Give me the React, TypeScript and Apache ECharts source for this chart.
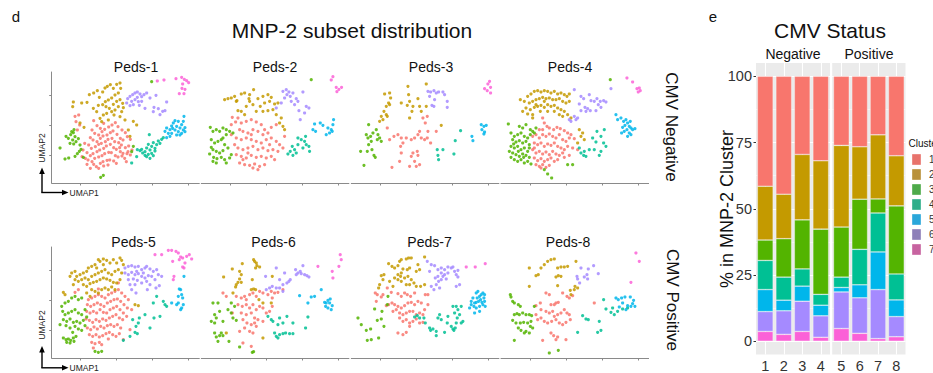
import React, { useEffect, useRef } from "react";
import * as echarts from "echarts";

type Pt = [number, number];

// ---------- UMAP panels (coordinates in UMAP plot units; y axis runs top->bottom) ----------
const PANEL_NAMES = ["Peds-1", "Peds-2", "Peds-3", "Peds-4", "Peds-5", "Peds-6", "Peds-7", "Peds-8"];
const CLUSTER_NAMES = ["1", "2", "3", "4", "5", "6", "7"];
const CLUSTER_COLORS = ["#F8766D", "#C49A00", "#53B400", "#00C094", "#00B6EB", "#A58AFF", "#FB61D7"];
const LEGEND_COLORS = ["#E8736C", "#B9913A", "#4EAA4A", "#2FAE8A", "#2AA7DA", "#8E80B9", "#C763A0"];
const UMAP1_TICKS = [92, 200, 308, 416];
const UMAP2_TICKS = [82, 172, 262];

const PEDS_1: Pt[][] = [
  [[75,145],[86,141],[78,161],[89,171],[82,186],[131,158],[141,173],[151,181],[161,166],[126,186],[134,196],[146,201],[156,191],[164,184],[176,177],[186,171],[196,164],[204,176],[216,186],[226,194],[232,206],[241,214],[121,209],[129,216],[141,221],[151,211],[159,204],[171,201],[181,194],[189,189],[201,199],[211,211],[219,216],[104,226],[116,231],[124,241],[136,236],[146,229],[154,226],[166,221],[174,214],[186,211],[194,221],[206,224],[214,231],[226,239],[99,246],[111,254],[121,263],[129,257],[141,251],[149,246],[161,241],[169,234],[181,229],[191,239],[199,244],[211,251],[219,256],[231,257],[96,266],[106,271],[114,276],[126,281],[134,271],[146,267],[156,263],[164,257],[176,253],[184,254],[196,263],[204,267],[216,264],[224,271],[241,261],[131,289],[139,296],[151,286],[159,281],[171,277],[179,276],[191,279],[199,286],[146,301],[161,294],[174,291],[209,239],[236,234],[246,246],[234,251],[229,281],[111,289],[121,301]],
  [[70,102],[68,116],[95,105],[111,103],[118,80],[131,75],[142,68],[148,88],[158,72],[165,60],[172,55],[181,50],[190,61],[200,49],[210,45],[212,61],[205,75],[195,81],[185,90],[175,96],[166,101],[158,110],[168,116],[178,121],[190,109],[200,100],[210,95],[218,106],[205,116],[195,126],[185,131],[170,136],[160,141],[150,151],[175,156],[192,141],[215,131],[220,119],[225,156],[210,146],[130,121],[140,131],[90,165],[102,178],[235,186],[240,205],[250,160],[260,171],[155,161],[145,112]],
  [[48,205],[55,211],[62,200],[70,194],[75,206],[68,216],[78,221],[60,226],[71,228],[85,212],[90,231],[72,185],[65,191],[30,240],[45,273],[56,270],[75,265],[82,257],[88,250],[93,244],[100,268],[152,328],[160,322],[245,251],[250,235],[305,41]],
  [[245,285],[260,266],[262,245],[285,251],[290,240],[295,229],[300,246],[305,235],[310,224],[315,241],[320,230],[325,219],[330,226],[335,214],[340,209],[285,262],[295,259],[305,256],[315,249],[300,271],[290,266],[278,255],[270,248],[298,200],[275,244],[310,263]],
  [[345,190],[350,180],[355,196],[360,185],[365,174],[370,165],[375,186],[380,175],[385,191],[390,180],[395,196],[400,186],[405,179],[395,170],[400,160],[402,145],[385,160],[375,158],[365,196],[380,201],[360,205],[350,209],[390,201],[405,191],[368,181]],
  [[233,92],[240,85],[248,80],[255,75],[262,72],[270,78],[275,86],[282,80],[290,75],[245,100],[255,95],[265,101],[230,105],[240,113],[250,110],[262,88],[275,100],[318,82],[350,102],[312,118],[325,122],[338,130],[345,128],[310,131],[330,140],[300,90],[285,121],[268,112]],
  [[378,32],[395,28],[403,34],[410,38],[416,44],[398,48],[396,61],[405,64],[388,77],[402,77],[342,36],[322,39]],
];

const PEDS_2: Pt[][] = [
  [[98,148],[115,150],[95,170],[108,162],[125,165],[140,160],[155,155],[170,162],[185,170],[195,185],[205,195],[215,178],[230,170],[120,185],[130,190],[145,195],[160,185],[175,190],[190,200],[110,210],[125,215],[140,210],[155,215],[170,220],[185,225],[200,215],[215,210],[230,220],[240,230],[115,240],[130,245],[145,240],[160,235],[175,245],[190,240],[205,248],[220,245],[235,250],[110,260],[125,265],[140,270],[155,262],[170,268],[185,265],[200,270],[215,265],[120,285],[135,290],[150,292],[165,288],[180,295],[195,290],[160,300],[175,305],[130,275],[145,255],[105,230],[210,230],[250,240],[225,275],[95,200],[155,200],[255,205]],
  [[75,95],[85,92],[95,90],[105,85],[112,98],[125,78],[135,75],[150,80],[162,65],[175,92],[190,85],[205,80],[215,88],[225,108],[235,105],[210,100],[195,105],[182,115],[170,130],[160,110],[150,100],[140,115],[125,130],[115,128],[135,140],[190,130],[205,128],[220,125],[230,140],[240,165],[250,175],[255,185],[245,150],[110,100],[148,92]],
  [[32,178],[40,190],[50,185],[60,190],[70,180],[80,185],[90,190],[100,195],[35,215],[45,225],[55,220],[65,215],[75,230],[85,240],[40,245],[50,250],[60,255],[70,248],[30,258],[42,268],[52,272],[65,268],[75,275],[40,280],[50,285],[80,285],[90,270],[95,260],[35,238],[80,200],[70,210],[335,35]],
  [[265,258],[272,250],[280,262],[290,255],[285,245],[295,210],[305,215],[315,220],[320,230],[310,240],[328,235],[295,230],[278,235],[318,205],[330,250]],
  [[340,185],[345,168],[362,165],[370,172],[385,180],[390,195],[395,185],[400,170],[402,155],[380,200],[398,190],[348,190]],
  [[250,70],[260,65],[268,72],[262,80],[272,85],[255,90],[280,75],[290,92],[295,100],[310,72],[285,110],[298,128],[320,115],[328,120],[315,135],[302,155],[230,120],[245,105],[275,100]],
  [[400,26],[395,36],[410,58],[418,64],[426,58],[412,71]],
];

const PEDS_3: Pt[][] = [
  [[113,180],[120,215],[133,205],[145,200],[155,210],[160,225],[153,235],[170,210],[185,215],[195,210],[205,200],[210,190],[215,210],[225,215],[233,210],[227,165],[220,150],[233,145],[235,190],[243,225],[260,190],[203,250],[190,255],[185,265],[195,280],[180,295],[200,295],[210,290],[155,255],[150,280],[127,298],[205,262]],
  [[105,78],[120,75],[123,90],[117,105],[110,115],[103,130],[95,145],[90,160],[100,155],[110,140],[120,110],[155,105],[177,80],[180,100],[173,112],[187,130],[180,150],[190,115],[205,92],[210,115],[215,130],[230,48],[175,55],[230,115],[275,172],[113,145]],
  [[57,170],[50,200],[55,210],[63,205],[70,195],[80,185],[85,200],[90,210],[83,215],[65,220],[57,230],[67,245],[73,262],[77,268],[43,292],[33,250],[95,220],[53,250]],
  [[263,245],[280,245],[265,262],[267,275],[313,258],[317,218],[333,188]],
  [[367,205],[370,218],[395,170],[403,175],[397,185],[405,192],[403,198],[410,172]],
  [[235,70],[243,72],[253,68],[260,75],[267,72],[280,72],[285,80],[255,95],[247,112],[253,115],[293,100],[293,118],[240,85]],
  [[420,40],[415,48],[423,58],[413,68],[423,75],[405,62]],
];

const PEDS_4: Pt[][] = [
  [[130,150],[135,165],[143,175],[150,180],[163,185],[173,178],[183,182],[195,188],[205,195],[215,200],[120,185],[110,200],[120,210],[130,200],[140,205],[150,198],[160,205],[170,210],[180,200],[190,215],[200,220],[210,210],[225,212],[105,225],[115,230],[125,225],[135,235],[145,228],[155,232],[165,225],[175,235],[185,240],[195,245],[205,235],[220,240],[100,245],[110,255],[120,250],[130,258],[140,252],[150,260],[160,250],[170,258],[180,262],[190,255],[105,270],[115,278],[125,272],[135,280],[145,275],[155,270],[165,280],[175,275],[110,290],[120,295],[130,290],[140,298],[150,292],[125,300],[195,268],[210,262],[235,245],[105,240],[100,205],[130,185]],
  [[63,95],[75,100],[85,85],[95,78],[105,70],[115,68],[125,72],[135,68],[145,70],[155,75],[165,70],[175,78],[185,75],[195,80],[203,85],[210,78],[90,105],[100,100],[110,95],[120,92],[130,88],[140,92],[150,90],[160,95],[170,95],[180,92],[190,100],[200,105],[210,100],[80,120],[93,125],[105,118],[115,115],[125,112],[135,118],[145,110],[155,115],[165,112],[175,120],[185,125],[195,130],[205,140],[215,150],[70,130],[85,138],[100,140],[123,130],[145,130],[165,130],[180,140],[190,145],[100,150],[110,110],[135,100],[235,225],[245,205],[255,215],[250,195],[240,185]],
  [[27,168],[60,175],[70,180],[80,170],[93,185],[100,190],[35,195],[45,205],[55,200],[65,195],[75,205],[85,210],[93,200],[40,215],[50,222],[60,218],[70,225],[80,220],[90,230],[35,235],[45,240],[55,235],[65,245],[75,240],[85,250],[40,255],[50,260],[60,265],[70,258],[80,262],[90,268],[45,275],[55,280],[65,275],[75,285],[85,280],[95,288],[35,268],[30,250],[43,228],[57,250],[73,268],[90,240],[105,195],[110,180],[205,290],[220,290],[145,318],[157,330],[135,305],[333,35]],
  [[240,240],[245,255],[255,250],[260,265],[270,245],[285,245],[293,190],[305,205],[315,185],[313,225],[305,250],[300,262],[280,210],[290,222],[253,262],[320,235]],
  [[350,140],[355,155],[365,150],[373,160],[380,155],[385,165],[390,175],[395,180],[383,185],[375,190],[390,195],[400,185],[407,182],[370,178],[377,172],[393,160],[367,195],[385,205],[395,200]],
  [[225,65],[245,85],[253,92],[240,108],[257,118],[265,122],[270,80],[275,98],[285,100],[293,92],[297,110],[303,100],[313,98],[320,102],[305,118],[290,128],[273,128],[245,128],[260,130],[335,62],[225,145],[235,150],[230,155],[215,160],[210,155]],
  [[383,30],[400,42],[420,60],[423,68],[417,72],[413,62]],
];

const PEDS_5: Pt[][] = [
  [[75,148],[85,140],[115,170],[125,165],[135,160],[145,155],[155,160],[165,165],[175,155],[185,150],[195,145],[205,140],[215,150],[225,160],[235,170],[112,185],[122,190],[132,185],[142,180],[152,185],[162,190],[172,180],[182,175],[192,170],[202,168],[212,175],[222,185],[232,195],[245,200],[110,205],[120,210],[130,205],[140,210],[150,200],[160,208],[170,210],[180,200],[190,195],[200,190],[210,200],[220,210],[230,220],[108,228],[118,232],[128,238],[138,230],[148,235],[158,228],[168,232],[178,225],[188,220],[198,215],[208,225],[218,230],[112,255],[122,260],[132,252],[142,258],[152,250],[162,255],[172,248],[182,245],[192,250],[202,245],[212,255],[118,275],[128,280],[138,275],[148,282],[158,278],[168,272],[178,268],[188,275],[198,280],[208,272],[125,298],[135,302],[148,298],[155,305],[130,315],[220,290],[240,260],[175,288],[145,138],[205,120]],
  [[40,148],[45,155],[60,100],[65,90],[75,85],[80,100],[90,95],[100,90],[110,85],[115,75],[125,70],[135,65],[145,50],[150,55],[160,48],[170,52],[180,60],[190,50],[200,60],[210,45],[215,52],[220,65],[85,115],[95,110],[105,105],[115,110],[125,100],[135,95],[145,90],[155,85],[165,80],[175,90],[185,95],[195,85],[205,80],[215,90],[100,125],[110,130],[120,122],[130,118],[140,115],[150,110],[160,105],[170,108],[180,112],[190,118],[200,120],[210,110],[125,140],[135,145],[145,150],[155,140],[165,135],[175,140],[185,132],[195,140],[110,150],[120,160],[140,75],[160,65],[255,185],[265,188],[70,125],[75,110]],
  [[35,190],[45,180],[55,175],[65,165],[75,160],[85,170],[95,165],[38,205],[45,215],[55,210],[65,205],[75,200],[85,210],[95,215],[40,230],[50,235],[60,228],[70,238],[80,235],[90,240],[100,232],[105,248],[48,248],[60,255],[75,250],[85,258],[95,262],[40,285],[48,290],[55,288],[62,292],[70,285],[50,298],[60,300],[72,295],[135,325],[145,328],[155,325],[110,222],[105,200],[30,245],[68,268],[78,280]],
  [[220,292],[240,280],[248,230],[258,250],[265,240],[262,272],[285,215],[300,255],[312,225],[320,160],[330,220],[340,175],[345,185],[350,190],[310,180],[268,225],[255,268]],
  [[385,160],[395,155],[398,165],[400,185],[395,195],[392,200],[385,180],[365,180],[388,138],[392,140],[402,100],[380,185]],
  [[225,75],[235,70],[245,68],[255,72],[265,70],[275,80],[285,75],[290,70],[300,78],[310,85],[320,80],[325,95],[335,100],[225,90],[235,95],[245,88],[255,95],[265,92],[275,100],[285,105],[295,98],[305,100],[315,110],[235,110],[250,108],[262,112],[275,120],[290,115],[300,125],[318,135],[328,128],[240,125],[255,125],[280,90],[260,85],[245,140],[292,140],[258,150]],
  [[315,35],[335,35],[355,22],[365,22],[378,25],[385,30],[392,42],[398,45],[410,40],[418,35],[425,48],[405,60],[402,75],[398,72],[372,100],[370,110],[368,55],[388,50]],
];

const PEDS_6: Pt[][] = [
  [[70,150],[80,160],[110,160],[125,165],[135,160],[140,170],[150,155],[160,150],[170,160],[180,145],[190,150],[205,155],[215,145],[225,150],[235,148],[115,185],[128,190],[140,185],[150,195],[160,185],[170,200],[180,190],[190,195],[200,210],[210,205],[218,190],[98,210],[125,210],[140,215],[155,210],[165,225],[130,230],[142,240],[155,245],[165,240],[175,230],[190,235],[120,265],[135,255],[150,265],[160,270],[170,250],[130,300],[155,310],[218,165],[250,140]],
  [[162,50],[165,55],[170,60],[172,68],[180,72],[168,75],[128,62],[98,78],[72,102],[120,85],[125,95],[120,108],[115,118],[110,125],[108,132],[125,118],[158,110],[162,138],[168,140],[155,140],[178,170],[190,180],[215,180],[218,100],[80,270],[190,285],[100,150]],
  [[40,180],[55,180],[60,205],[45,215],[50,225],[35,235],[45,240],[70,235],[85,200],[95,180],[105,190],[95,210],[100,225],[110,232],[45,270],[50,282],[60,278],[55,295],[65,270],[70,278],[88,295],[120,312],[158,328],[162,326]],
  [[205,220],[215,230],[220,235],[240,225],[235,245],[250,240],[262,220],[280,240],[225,270],[230,280],[240,275],[250,272],[258,270],[270,272],[280,272],[235,285],[318,255],[325,222]],
  [[300,158],[325,180],[335,162],[345,160],[365,140],[375,178],[385,172],[390,180],[398,188],[395,200],[385,195],[378,190],[380,180],[392,168]],
  [[230,75],[255,90],[262,120],[268,115],[272,110],[250,125],[240,135],[230,135],[210,135],[198,100],[200,140],[218,130],[288,80],[295,90],[302,85],[310,68],[315,95],[322,98],[305,92],[290,95],[328,102],[250,145],[240,110]],
  [[422,35],[425,50],[418,70],[398,85],[400,105],[355,70]],
];

const PEDS_7: Pt[][] = [
  [[77,150],[83,155],[95,162],[100,155],[113,135],[125,148],[145,152],[155,160],[165,150],[173,155],[183,160],[195,150],[205,175],[215,180],[227,155],[235,155],[110,188],[117,185],[127,180],[135,185],[145,190],[155,195],[165,188],[175,180],[185,178],[195,185],[130,205],[140,200],[150,210],[160,215],[170,210],[180,205],[190,205],[200,215],[210,210],[220,215],[150,225],[160,235],[170,230],[180,240],[190,235],[200,228],[210,240],[145,270],[160,275],[170,268],[180,250],[220,238],[235,185],[80,175],[225,200]],
  [[95,98],[103,95],[117,62],[127,70],[135,75],[145,68],[150,55],[155,50],[170,48],[177,45],[185,45],[160,78],[173,80],[180,75],[205,65],[210,80],[225,42],[155,90],[145,95],[135,105],[145,110],[155,115],[165,105],[175,100],[185,110],[193,120],[180,125],[170,125],[200,130],[213,130],[225,125],[100,110],[90,125],[87,135],[120,115],[130,130],[153,100],[200,85]],
  [[25,225],[35,245],[50,262],[53,292],[65,290],[87,285],[63,258],[75,198],[83,232],[95,228],[103,250],[97,205],[115,160],[113,185]],
  [[195,222],[203,218],[210,225],[223,225],[227,240],[240,255],[243,262],[250,258],[260,265],[260,278],[265,225],[270,215],[275,230],[285,268],[293,240],[305,250],[310,258],[313,262],[317,255],[320,240],[323,225],[330,215],[335,240],[340,235],[310,190],[320,190],[335,190],[295,220],[315,210],[325,200]],
  [[365,175],[370,165],[375,180],[380,150],[385,145],[390,160],[393,170],[397,178],[400,185],[403,165],[405,175],[407,190],[390,190],[380,195],[373,190],[387,175],[383,165],[395,155],[400,150],[375,210],[390,205],[360,195],[365,185],[405,155],[380,178]],
  [[233,55],[245,65],[255,68],[265,80],[275,75],[285,80],[295,72],[305,75],[310,72],[315,85],[320,95],[325,102],[320,130],[330,125],[325,82],[295,90],[285,95],[275,90],[265,100],[257,105],[267,115],[275,110],[260,125],[253,140],[245,130],[270,135],[240,85],[280,100],[290,108]],
  [[350,72],[377,72],[407,62]],
];

const PEDS_8: Pt[][] = [
  [[110,188],[123,180],[140,150],[150,155],[155,185],[165,185],[170,180],[177,178],[190,150],[203,160],[210,165],[220,158],[125,200],[140,205],[150,210],[160,205],[165,220],[175,215],[185,210],[195,200],[203,210],[210,215],[115,230],[125,225],[135,235],[145,240],[157,235],[170,230],[180,240],[190,245],[200,238],[213,230],[155,270],[163,278],[170,290],[175,282],[130,292],[200,290],[285,180],[110,215]],
  [[90,75],[110,98],[117,95],[125,75],[135,65],[145,55],[155,50],[165,48],[175,75],[185,72],[195,72],[205,70],[230,55],[177,98],[185,100],[90,130],[175,128],[213,142],[225,140],[235,135],[215,155],[227,130],[170,102]],
  [[33,155],[35,162],[40,175],[45,180],[57,185],[63,190],[70,210],[80,215],[90,215],[97,218],[45,215],[53,212],[60,215],[40,232],[50,240],[63,240],[73,238],[85,240],[95,235],[57,255],[65,262],[80,265],[93,250],[100,255],[45,292],[75,270],[90,270],[105,190],[150,330],[177,322]],
  [[250,218],[260,228],[267,230],[300,235],[295,268],[305,262],[313,170],[320,198],[335,208],[340,195],[355,205],[235,268],[370,198],[385,195],[345,215]],
  [[350,165],[357,170],[367,165],[377,162],[393,162],[403,172],[407,190],[395,190],[385,188],[370,180],[360,192],[380,200],[400,182]],
  [[245,75],[267,78],[283,68],[263,95],[255,102],[265,108],[235,108],[233,100],[297,92],[241,120]],
  [[410,30],[420,55],[395,118]],
];

const PANELS: Pt[][][] = [PEDS_1, PEDS_2, PEDS_3, PEDS_4, PEDS_5, PEDS_6, PEDS_7, PEDS_8];

// ---------- CMV status stacked bars (% of MNP-2 cells per cluster) ----------
const SAMPLE_IDS = ["1", "2", "3", "4", "5", "6", "7", "8"];
const NEGATIVE_IDX = [0, 1, 2, 3];
const POSITIVE_IDX = [4, 5, 6, 7];
const PCT_CLUSTER_1 = [41.5, 44.5, 29.5, 31.9, 26.1, 26.6, 22.1, 30.0];
const PCT_CLUSTER_2 = [20.3, 16.8, 24.7, 25.8, 30.8, 19.8, 24.2, 18.9];
const PCT_CLUSTER_3 = [7.7, 14.5, 18.5, 24.6, 18.9, 18.9, 5.3, 25.7];
const PCT_CLUSTER_4 = [11.0, 8.7, 6.5, 4.1, 3.9, 13.4, 14.7, 9.8];
const PCT_CLUSTER_5 = [8.3, 4.0, 5.7, 4.0, 1.7, 4.9, 14.2, 6.3];
const PCT_CLUSTER_6 = [7.5, 8.9, 11.4, 8.1, 13.8, 13.4, 18.5, 7.6];
const PCT_CLUSTER_7 = [3.7, 2.6, 3.7, 1.5, 4.8, 3.0, 1.0, 1.7];
const PCT = [PCT_CLUSTER_1, PCT_CLUSTER_2, PCT_CLUSTER_3, PCT_CLUSTER_4, PCT_CLUSTER_5, PCT_CLUSTER_6, PCT_CLUSTER_7];
const PCT_TICKS = [0, 25, 50, 75, 100];
const PCT_MINOR = [12.5, 37.5, 62.5, 87.5];

const FONT = "'Liberation Sans', Arial, Helvetica, sans-serif";

function txt(x: number, y: number, text: string, size: number, opts: any = {}) {
  return {
    type: "text",
    x,
    y,
    rotation: opts.rotation || 0,
    silent: true,
    style: {
      text,
      fontSize: size,
      fontFamily: FONT,
      fill: opts.fill || "#111",
      align: opts.align || "center",
      verticalAlign: "middle",
      textAlign: opts.align || "center",
      textVerticalAlign: "middle",
    },
  };
}

function umapArrow(cy: number, tipY: number, labelY: number) {
  const cx = 42;
  return [
    { type: "line", silent: true, shape: { x1: cx, y1: cy, x2: cx, y2: tipY + 5 }, style: { stroke: "#000", lineWidth: 1.4 } },
    { type: "line", silent: true, shape: { x1: cx - 0.7, y1: cy, x2: 63, y2: cy }, style: { stroke: "#000", lineWidth: 1.4 } },
    { type: "polygon", silent: true, shape: { points: [[cx, tipY], [cx - 2.8, tipY + 6.5], [cx + 2.8, tipY + 6.5]] }, style: { fill: "#000" } },
    { type: "polygon", silent: true, shape: { points: [[68.5, cy], [62, cy - 2.8], [62, cy + 2.8]] }, style: { fill: "#000" } },
    txt(69.5, cy + 0.5, "UMAP1", 8.5, { align: "left", fill: "#222" }),
    txt(cx - 0.5, labelY, "UMAP2", 8.5, { rotation: Math.PI / 2, fill: "#222" }),
  ];
}

export default function App() {
  const ref = useRef<HTMLDivElement>(null);

  useEffect(() => {
    if (!ref.current) return;
    const chart = echarts.init(ref.current, undefined, { renderer: "svg" });

    const PANEL_LEFT = [51.7, 201.3, 351.3, 501];
    const ROW_TOP = [72, 247];
    const PW = 147.6;
    const PH = 111;

    const grids: any[] = [];
    const xAxes: any[] = [];
    const yAxes: any[] = [];
    const series: any[] = [];

    PANELS.forEach((panel, p) => {
      const col = p % 4;
      const row = Math.floor(p / 4);
      const first = col === 0;
      grids.push({ left: PANEL_LEFT[col], top: ROW_TOP[row], width: PW, height: PH, containLabel: false });
      xAxes.push({
        type: "value",
        gridIndex: p,
        min: 5,
        max: 448,
        axisLine: { show: true, lineStyle: { color: "#8a8a8a", width: 1 } },
        axisTick: { show: true, length: 2.5, customValues: UMAP1_TICKS, lineStyle: { color: "#8a8a8a" } },
        axisLabel: { show: false },
        splitLine: { show: false },
      });
      yAxes.push({
        type: "value",
        gridIndex: p,
        inverse: true,
        min: 12,
        max: 345,
        axisLine: { show: first, lineStyle: { color: "#8a8a8a", width: 1 } },
        axisTick: { show: first, length: 2.5, customValues: UMAP2_TICKS, lineStyle: { color: "#8a8a8a" } },
        axisLabel: { show: false },
        splitLine: { show: false },
      });
      panel.forEach((pts, c) => {
        series.push({
          type: "scatter",
          name: CLUSTER_NAMES[c],
          xAxisIndex: p,
          yAxisIndex: p,
          data: pts,
          symbol: "circle",
          symbolSize: 3.2,
          silent: true,
          itemStyle: { color: CLUSTER_COLORS[c], opacity: 0.85 },
        });
      });
    });

    // bar facets (CMV Negative / Positive)
    const BAR_GRIDS = [
      { left: 756, width: 74, idx: NEGATIVE_IDX },
      { left: 832.2, width: 73.3, idx: POSITIVE_IDX },
    ];
    BAR_GRIDS.forEach((g, k) => {
      const gi = 8 + k;
      grids.push({ left: g.left, top: 63, width: g.width, height: 293, show: true, backgroundColor: "#EBEBEB", borderWidth: 0 });
      const cats = g.idx.map((i) => SAMPLE_IDS[i]);
      xAxes.push({
        type: "category",
        gridIndex: gi,
        data: cats,
        boundaryGap: true,
        axisLine: { show: false },
        axisTick: { show: true, alignWithLabel: true, length: 2.5, lineStyle: { color: "#333" } },
        axisLabel: { show: true, fontSize: 14.5, fontFamily: FONT, color: "#333", margin: 3.5 },
        splitLine: { show: false },
      });
      yAxes.push({
        type: "value",
        gridIndex: gi,
        min: -5,
        max: 105,
        axisLine: { show: false },
        axisTick: { show: k === 0, length: 2.5, customValues: PCT_TICKS, lineStyle: { color: "#333" } },
        axisLabel: { show: k === 0, customValues: PCT_TICKS, fontSize: 14.5, fontFamily: FONT, color: "#333", margin: 4 },
        splitLine: { show: false },
      });
      // panel grid lines (white), below the bars
      series.push({
        type: "line",
        xAxisIndex: gi,
        yAxisIndex: gi,
        data: [],
        silent: true,
        markLine: {
          silent: true,
          z: 1,
          symbol: ["none", "none"],
          label: { show: false },
          animation: false,
          data: [
            ...cats.map((c) => ({ xAxis: c, lineStyle: { color: "#ffffff", width: 1.1, type: "solid" } })),
            ...PCT_TICKS.map((v) => ({ yAxis: v, lineStyle: { color: "#ffffff", width: 1.1, type: "solid" } })),
            ...PCT_MINOR.map((v) => ({ yAxis: v, lineStyle: { color: "#ffffff", width: 0.5, type: "solid" } })),
          ],
        },
      });
      for (let c = 6; c >= 0; c--) {
        series.push({
          type: "bar",
          name: CLUSTER_NAMES[c],
          xAxisIndex: gi,
          yAxisIndex: gi,
          stack: "cmv" + k,
          barWidth: 15.8,
          z: 3,
          silent: true,
          data: g.idx.map((i) => PCT[c][i]),
          itemStyle: { color: CLUSTER_COLORS[c], borderColor: "rgba(255,255,255,0.55)", borderWidth: 0.6 },
        });
      }
    });

    const LABEL_X = [136, 275, 431, 570, 133.5, 273.5, 429.5, 568];
    const graphic: any[] = [
      txt(16, 16, "d", 15),
      txt(352, 30, "MNP-2 subset distribution", 21),
      ...PANEL_NAMES.map((n, i) => txt(LABEL_X[i], i < 4 ? 66.5 : 241.5, n, 14)),
      txt(671.5, 127, "CMV Negative", 17, { rotation: -Math.PI / 2 }),
      txt(672, 300, "CMV Positive", 17, { rotation: -Math.PI / 2 }),
      ...umapArrow(192.5, 167.5, 148),
      ...umapArrow(367.8, 346, 325),
      txt(713, 16, "e", 15),
      txt(830, 30, "CMV Status", 21),
      txt(793, 54, "Negative", 14),
      txt(869, 54, "Positive", 14),
      txt(727, 209, "% in MNP-2 Cluster", 18, { rotation: Math.PI / 2 }),
      txt(908.5, 143, "Cluster", 10, { align: "left" }),
      ...CLUSTER_NAMES.map((n, i) => ({
        type: "rect",
        silent: true,
        shape: { x: 912, y: 154 + i * 15, width: 9, height: 11 },
        style: { fill: LEGEND_COLORS[i], stroke: "rgba(255,255,255,0.6)", lineWidth: 0.6 },
      })),
      ...CLUSTER_NAMES.map((n, i) => txt(929, 159.5 + i * 15, n, 10, { align: "left", fill: "#333" })),
    ];

    chart.setOption({
      animation: false,
      backgroundColor: "#ffffff",
      grid: grids,
      xAxis: xAxes,
      yAxis: yAxes,
      series,
      graphic,
    });

    return () => chart.dispose();
  }, []);

  return <div ref={ref} style={{ position: "absolute", left: 0, top: 0, width: 933, height: 373 }} />;
}
